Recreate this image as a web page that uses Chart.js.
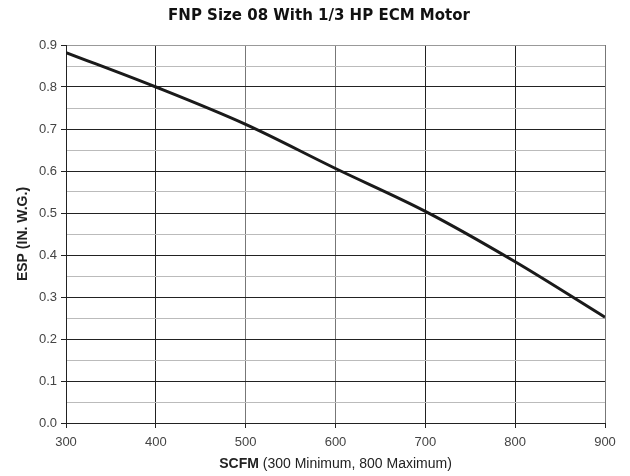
<!DOCTYPE html>
<html>
<head>
<meta charset="utf-8">
<script src="https://cdn.jsdelivr.net/npm/chart.js@4"></script>
<style>
  html, body { margin: 0; padding: 0; background: #fff; }
  #wrap { width: 630px; height: 476px; }
</style>
</head>
<body>
<div id="wrap"><canvas id="fanChart" width="630" height="476"></canvas></div>
<script>
// fan curve: SCFM vs external static pressure
const airflow = [300, 400, 500, 600, 700, 800, 900];
const pressure = [0.882, 0.80, 0.711, 0.606, 0.504, 0.384, 0.252];
const xTicks = [300, 400, 500, 600, 700, 800, 900];
const yMajor = [0.0, 0.1, 0.2, 0.3, 0.4, 0.5, 0.6, 0.7, 0.8, 0.9];

const chartTitle = "FNP Size 08 With 1/3 HP ECM Motor";
const FONT = "'Liberation Sans', Arial, Helvetica, sans-serif";

const isMajor = (v) => yMajor.some((m) => Math.abs(m - v) < 1e-6);

// title centred on the canvas; x axis title has a bold first word
const textPlugin = {
  id: "texts",
  afterDraw(chart) {
    const ctx = chart.ctx;
    const area = chart.chartArea;
    ctx.save();
    ctx.textBaseline = "middle";

    ctx.fillStyle = "#111";
    ctx.textAlign = "center";
    ctx.font = "bold 15px 'DejaVu Sans', sans-serif";
    ctx.fillText(chartTitle, chart.width / 2 + 4, 16);

    ctx.textAlign = "left";
    ctx.fillStyle = "#222";
    const boldPart = "SCFM";
    const rest = " (300 Minimum, 800 Maximum)";
    ctx.font = "bold 14px " + FONT;
    const w1 = ctx.measureText(boldPart).width;
    ctx.font = "14px " + FONT;
    const w2 = ctx.measureText(rest).width;
    const x = (area.left + area.right) / 2 - (w1 + w2) / 2;
    const y = 464;
    ctx.font = "bold 14px " + FONT;
    ctx.fillText(boldPart, x, y);
    ctx.font = "14px " + FONT;
    ctx.fillText(rest, x + w1, y);
    ctx.restore();
  },
};

new Chart(document.getElementById("fanChart"), {
  type: "line",
  data: {
    datasets: [
      {
        data: airflow.map((x, i) => ({ x: x, y: pressure[i] })),
        borderColor: "#1a1a1a",
        borderWidth: 3,
        pointRadius: 0,
        cubicInterpolationMode: "monotone",
        fill: false,
      },
    ],
  },
  options: {
    responsive: false,
    animation: false,
    layout: { padding: { left: 0, right: 25, top: 45, bottom: 0 } },
    plugins: {
      legend: { display: false },
      tooltip: { enabled: false },
      title: { display: false },
    },
    scales: {
      x: {
        type: "linear",
        min: 300,
        max: 900,
        afterBuildTicks: (scale) => {
          scale.ticks = xTicks.map((v) => ({ value: v }));
        },
        ticks: {
          color: "#444",
          font: { family: FONT, size: 13 },
          padding: 7,
          maxRotation: 0,
        },
        grid: {
          color: (c) => {
            const v = c.tick ? c.tick.value : 0;
            if (v === 500 || v === 600 || v === 900) return "#777";
            return "#222";
          },
          lineWidth: 1,
          tickLength: 5,
          tickColor: "#222",
        },
        border: { color: "#222", width: 1 },
        afterFit: (scale) => {
          scale.height = 53;
        },
      },
      y: {
        min: 0,
        max: 0.9,
        ticks: {
          stepSize: 0.05,
          color: "#444",
          font: { family: FONT, size: 13 },
          padding: 4,
          callback: (v) => (isMajor(v) ? v.toFixed(1) : ""),
        },
        grid: {
          color: (c) => {
            const v = c.tick ? c.tick.value : 0;
            if (Math.abs(v - 0.9) < 1e-6) return "#999";
            return isMajor(v) ? "#222" : "#bbb";
          },
          lineWidth: 1,
          tickLength: 5,
          tickColor: (c) => {
            const v = c.tick ? c.tick.value : 0;
            return isMajor(v) ? "#222" : "rgba(0,0,0,0)";
          },
        },
        border: { color: "#222", width: 1 },
        title: {
          display: true,
          text: "ESP (IN. W.G.)",
          color: "#222",
          font: { family: FONT, size: 14, weight: "bold" },
          padding: { top: 15, bottom: 6 },
        },
        afterFit: (scale) => {
          scale.width = 66;
        },
      },
    },
  },
  plugins: [textPlugin],
});
</script>
</body>
</html>
